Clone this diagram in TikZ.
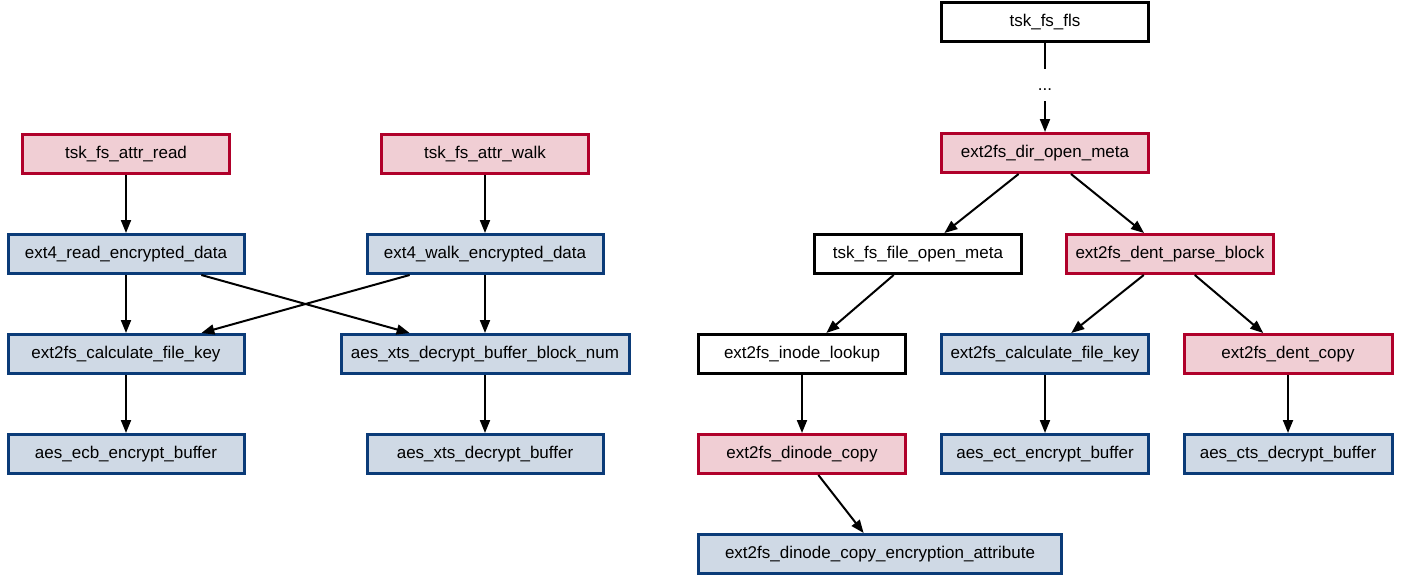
\documentclass[tikz,border=0pt]{standalone}
\usepackage{fontspec}
\setmainfont{Liberation Sans}
\usetikzlibrary{arrows.meta}
\definecolor{hotred}{HTML}{B0002A}
\definecolor{hotfill}{HTML}{F0CED4}
\definecolor{cryptblue}{HTML}{0B3B78}
\definecolor{cryptfill}{HTML}{CFD9E5}

\begin{document}
\begin{tikzpicture}[x=1pt,y=-1pt,
	font=\fontsize{17}{20}\selectfont,
	fn/.style={draw,line width=3pt,minimum height=39pt,minimum width=207pt,inner sep=0pt},
	hot/.style={fn,draw=hotred,fill=hotfill},
	crypt/.style={fn,draw=cryptblue,fill=cryptfill},
	plain/.style={fn,draw=black,fill=white},
	call/.style={line width=2pt,-{Triangle[length=13pt,width=10pt]}}]
	\useasboundingbox (0,0) rectangle (1411,578);

	\node[hot] (attrread) at (126,154) {tsk\_fs\_attr\_read};
	\node[hot] (attrwalk) at (485,154) {tsk\_fs\_attr\_walk};
	\node[crypt,minimum width=236pt] (readenc) at (126,254) {ext4\_read\_encrypted\_data};
	\node[crypt,minimum width=236pt] (walkenc) at (485,254) {ext4\_walk\_encrypted\_data};
	\node[crypt,minimum width=236pt] (calckey) at (126,354) {ext2fs\_calculate\_file\_key};
	\node[crypt,minimum width=288pt] (xtsblock) at (485,354) {aes\_xts\_decrypt\_buffer\_block\_num};
	\node[crypt,minimum width=236pt] (ecbbuf) at (126,454) {aes\_ecb\_encrypt\_buffer};
	\node[crypt,minimum width=236pt] (xtsbuf) at (485,454) {aes\_xts\_decrypt\_buffer};

	\node[plain] (fls) at (1045,22.5) {tsk\_fs\_fls};
	\node[inner xsep=0pt,inner ysep=11pt,text height=10pt,text depth=0pt] (dots) at (1045,85) {...};
	\node[hot] (diropen) at (1045,153) {ext2fs\_dir\_open\_meta};
	\node[plain] (fileopen) at (918,254) {tsk\_fs\_file\_open\_meta};
	\node[hot] (dentparse) at (1170,254) {ext2fs\_dent\_parse\_block};
	\node[plain] (inodelookup) at (802,354) {ext2fs\_inode\_lookup};
	\node[crypt] (rcalckey) at (1045,354) {ext2fs\_calculate\_file\_key};
	\node[hot,minimum width=208pt] (dentcopy) at (1288,354) {ext2fs\_dent\_copy};
	\node[hot] (dinodecopy) at (802,454) {ext2fs\_dinode\_copy};
	\node[crypt] (ectbuf) at (1045,454) {aes\_ect\_encrypt\_buffer};
	\node[crypt,minimum width=208pt] (ctsbuf) at (1288,454) {aes\_cts\_decrypt\_buffer};
	\node[crypt,minimum width=363pt] (encattr) at (880,554) {ext2fs\_dinode\_copy\_encryption\_attribute};

	\draw[call] (attrread) -- (readenc);
	\draw[call] (attrwalk) -- (walkenc);
	\draw[call] (readenc) -- (calckey);
	\draw[call] (readenc) -- (xtsblock);
	\draw[call] (walkenc) -- (calckey);
	\draw[call] (walkenc) -- (xtsblock);
	\draw[call] (calckey) -- (ecbbuf);
	\draw[call] (xtsblock) -- (xtsbuf);

	\draw[line width=2pt] (fls) -- (dots);
	\draw[call] (dots) -- (diropen);
	\draw[call] (diropen) -- (fileopen);
	\draw[call] (diropen) -- (dentparse);
	\draw[call] (fileopen) -- (inodelookup);
	\draw[call] (dentparse) -- (rcalckey);
	\draw[call] (dentparse) -- (dentcopy);
	\draw[call] (inodelookup) -- (dinodecopy);
	\draw[call] (dinodecopy) -- (encattr);
	\draw[call] (rcalckey) -- (ectbuf);
	\draw[call] (dentcopy) -- (ctsbuf);
\end{tikzpicture}
\end{document}
